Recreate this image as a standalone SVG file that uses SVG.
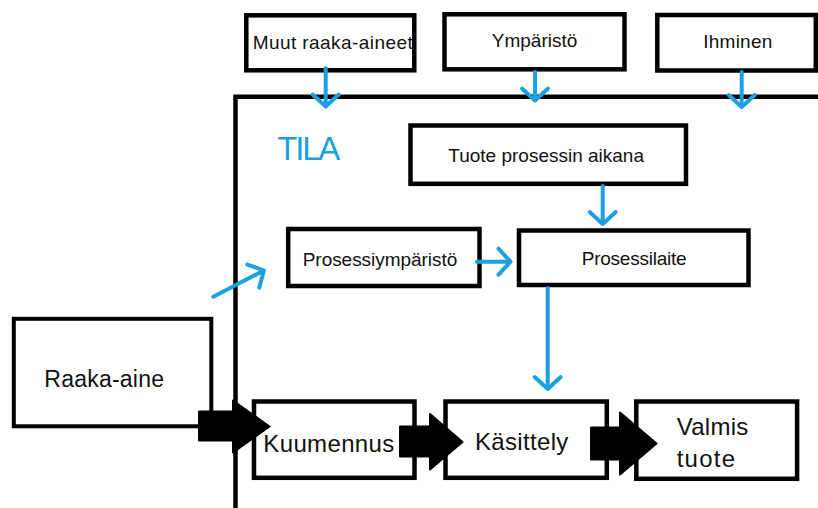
<svg xmlns="http://www.w3.org/2000/svg" width="818" height="508" viewBox="0 0 818 508">
<style>
.box{fill:#fff;stroke:#000;stroke-width:4.5}
.t{font-family:"Liberation Sans",Arial,sans-serif;fill:#111;font-size:19px}
.tb{font-size:24px}
.blue{fill:none;stroke:#1ba1e2;stroke-width:4;stroke-linecap:round}
.blk{fill:#000;stroke:#000;stroke-width:2;stroke-linejoin:round}
</style>
<defs>
<marker id="chev" markerUnits="userSpaceOnUse" markerWidth="34" markerHeight="34" viewBox="-17 -17 34 34" refX="0" refY="0" orient="auto" overflow="visible">
<path d="M-11,-13 L1,0 L-11,13" fill="none" stroke="#1ba1e2" stroke-width="4" stroke-linecap="round" stroke-linejoin="round"/>
</marker>
</defs>
<rect width="818" height="508" fill="#fff"/>
<path id="frame" d="M235.5,508 V96.7 H820" fill="none" stroke="#000" stroke-width="4.5"/>
<text x="277.3" y="160" font-family="Liberation Sans,Arial,sans-serif" font-size="33" fill="#1ba1e2" textLength="63">TILA</text>

<g id="muut"><rect class="box" x="246.3" y="15.3" width="168" height="55"/><text class="t" x="252.7" y="49.3" textLength="160">Muut raaka-aineet</text></g>
<g id="ymparisto"><rect class="box" x="444.5" y="14.3" width="180" height="55"/><text class="t" x="491.7" y="47" textLength="85.6">Ympäristö</text></g>
<g id="ihminen"><rect class="box" x="657.3" y="15" width="158.5" height="55.5"/><text class="t" x="703.3" y="47.7" textLength="69">Ihminen</text></g>
<g id="tuote"><rect class="box" x="410.5" y="125.5" width="275.5" height="58.3"/><text class="t" x="448.3" y="161.7" textLength="195.7">Tuote prosessin aikana</text></g>
<g id="prosessiymparisto"><rect class="box" x="288.2" y="229" width="191.3" height="57"/><text class="t" x="302.7" y="266" textLength="154.6">Prosessiympäristö</text></g>
<g id="prosessilaite"><rect class="box" x="519" y="230.5" width="229.5" height="54.5"/><text class="t" x="581.7" y="265" textLength="105">Prosessilaite</text></g>
<g id="raaka-aine"><rect class="box" x="13.8" y="318.8" width="197.5" height="107.5" style="stroke-width:4"/><text class="t tb" x="44.3" y="387.3" textLength="119.7" style="font-size:23px">Raaka-aine</text></g>
<g id="kuumennus"><rect class="box" x="254" y="401.5" width="160.5" height="76.3"/><text class="t tb" x="263.3" y="451.7" textLength="131">Kuumennus</text></g>
<g id="kasittely"><rect class="box" x="445.5" y="401.5" width="161.3" height="76.3"/><text class="t tb" x="475" y="450" textLength="93.3">Käsittely</text></g>
<g id="valmis"><rect class="box" x="636.3" y="401.5" width="160.8" height="77.3"/><text class="t tb" x="676.7" y="435" textLength="71.6">Valmis</text><text class="t tb" x="676.7" y="466.7" textLength="58.3">tuote</text></g>

<g id="connectors">
<path class="blue" d="M325.7,68 V105.5" marker-end="url(#chev)"/>
<path class="blue" d="M535,72 V99.5" marker-end="url(#chev)"/>
<path class="blue" d="M741.7,72 V106" marker-end="url(#chev)"/>
<path class="blue" d="M602.7,186 V223" marker-end="url(#chev)"/>
<path class="blue" d="M477,261.7 H509.5" marker-end="url(#chev)"/>
<path class="blue" d="M213.3,296.7 L263,271" marker-end="url(#chev)"/>
<path class="blue" d="M547.7,288 V388" marker-end="url(#chev)"/>
<polygon class="blk" points="199,411.5 233,411.5 233,400.5 269.5,426.5 233,452.5 233,440.5 199,440.5"/>
<polygon class="blk" points="400,426.5 430,426.5 430,414 462.5,442 430,469.5 430,456.5 400,456.5"/>
<polygon class="blk" points="591,427.5 620,427.5 620,412.5 656.5,443.5 620,474.5 620,459.5 591,459.5"/>
</g>
</svg>
